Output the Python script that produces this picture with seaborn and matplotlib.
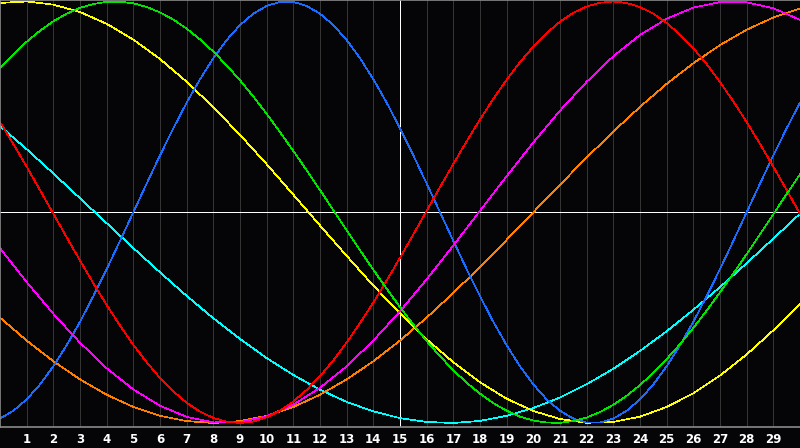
import numpy as np
import pandas as pd
import matplotlib
matplotlib.use("Agg")
import matplotlib.pyplot as plt
import seaborn as sns

# day positions: whole days for the slow cycles, half days for the fast ones
days = list(range(31))
half_days = [d / 2 for d in range(61)]

# values (half-day readings for the fast cycles)
red = [0.428, 0.324, 0.216, 0.105, -0.007, -0.119, -0.229, -0.337, -0.440, -0.538,
       -0.629, -0.712, -0.786, -0.850, -0.904, -0.946, -0.976, -0.994, -1.000, -0.993,
       -0.973, -0.942, -0.898, -0.843, -0.778, -0.703, -0.618, -0.526, -0.428, -0.324,
       -0.216, -0.105, 0.007, 0.119, 0.229, 0.337, 0.440, 0.538, 0.629, 0.712,
       0.786, 0.850, 0.904, 0.946, 0.976, 0.994, 1.000, 0.993, 0.973, 0.942,
       0.898, 0.843, 0.778, 0.703, 0.618, 0.526, 0.428, 0.324, 0.216, 0.105, -0.007]
green = [0.683, 0.749, 0.809, 0.861, 0.906, 0.942, 0.970, 0.988, 0.998, 0.999,
         0.991, 0.974, 0.948, 0.914, 0.871, 0.820, 0.762, 0.697, 0.626, 0.549,
         0.467, 0.380, 0.291, 0.199, 0.105, 0.010, -0.086, -0.180, -0.273, -0.363,
         -0.450, -0.533, -0.611, -0.683, -0.750, -0.809, -0.861, -0.906, -0.942, -0.970,
         -0.988, -0.998, -0.999, -0.991, -0.974, -0.948, -0.914, -0.871, -0.820, -0.762,
         -0.697, -0.626, -0.549, -0.467, -0.380, -0.291, -0.199, -0.105, -0.009, 0.086, 0.180]
blue = [-0.979, -0.942, -0.888, -0.817, -0.731, -0.631, -0.520, -0.398, -0.270, -0.136,
        0.000, 0.136, 0.270, 0.398, 0.520, 0.631, 0.731, 0.817, 0.888, 0.942,
        0.979, 0.998, 0.998, 0.979, 0.942, 0.888, 0.817, 0.731, 0.631, 0.520,
        0.398, 0.270, 0.136, 0.000, -0.136, -0.270, -0.398, -0.520, -0.631, -0.731,
        -0.817, -0.888, -0.942, -0.979, -0.998, -0.998, -0.979, -0.942, -0.888, -0.817,
        -0.731, -0.631, -0.520, -0.398, -0.270, -0.136, 0.000, 0.136, 0.270, 0.398, 0.520]
yellow = [0.993, 1.000, 0.985, 0.950, 0.894, 0.819, 0.727, 0.619, 0.498, 0.367,
          0.228, 0.083, -0.063, -0.207, -0.348, -0.480, -0.603, -0.712, -0.807, -0.885,
          -0.943, -0.981, -0.999, -0.995, -0.970, -0.924, -0.859, -0.775, -0.675, -0.560, -0.434]
cyan = [0.409, 0.299, 0.184, 0.066, -0.052, -0.170, -0.285, -0.397, -0.503, -0.601,
        -0.692, -0.772, -0.842, -0.900, -0.945, -0.977, -0.995, -1.000, -0.990, -0.966,
        -0.929, -0.879, -0.816, -0.743, -0.658, -0.565, -0.463, -0.355, -0.242, -0.125, -0.007]
magenta = [-0.171, -0.331, -0.482, -0.619, -0.740, -0.841, -0.918, -0.971, -0.997, -0.996,
           -0.968, -0.913, -0.833, -0.731, -0.609, -0.470, -0.318, -0.158, 0.007, 0.171,
           0.331, 0.482, 0.619, 0.740, 0.841, 0.918, 0.971, 0.997, 0.996, 0.968, 0.913]
orange = [-0.500, -0.609, -0.707, -0.793, -0.866, -0.924, -0.966, -0.991, -1.000, -0.991,
          -0.966, -0.924, -0.866, -0.793, -0.707, -0.609, -0.500, -0.383, -0.259, -0.131,
          0.000, 0.131, 0.259, 0.383, 0.500, 0.609, 0.707, 0.793, 0.866, 0.924, 0.966]

tick_days = list(range(1, 30))
tick_labels = [str(d) for d in tick_days]

series = [("cyan", days, cyan), ("orange", days, orange), ("yellow", days, yellow),
          ("blue", half_days, blue), ("magenta", days, magenta),
          ("red", half_days, red), ("green", half_days, green)]
palette = {"red": "#ff0000", "green": "#00e600", "blue": "#1a6cff", "yellow": "#ffff00",
           "cyan": "#00ffff", "magenta": "#ff00ff", "orange": "#ff8000"}

df = pd.concat([pd.DataFrame({"day": x, "value": v, "cycle": k}) for k, x, v in series])

fig = plt.figure(figsize=(8, 4.48), dpi=100, facecolor="#050508")
ax = fig.add_axes([0, 1 - 427 / 448, 1, 427 / 448])
ax.set_facecolor("#050508")

# day grid
for d in tick_days:
    ax.axvline(d, color="#343434", lw=0.72, zorder=0, antialiased=False)
ax.axvline(15, color="white", lw=0.72, zorder=1, antialiased=False)
ax.axhline(0, color="white", lw=0.72, zorder=1, antialiased=False)

sns.lineplot(data=df, x="day", y="value", hue="cycle", palette=palette, ax=ax,
             lw=0.5, legend=False, sort=False, estimator=None, zorder=2,
             antialiased=False)

ax.set_xlim(0, 30)
ax.set_ylim(-1.019, 1.007)
ax.set_xticks(tick_days)
ax.set_xticklabels(tick_labels, color="white", fontweight="bold", fontsize=8.5)
ax.tick_params(axis="x", length=0, pad=4)
ax.set_yticks([])
ax.set_xlabel("")
ax.set_ylabel("")
for name, sp in ax.spines.items():
    sp.set_color("#8a8a8a")
    sp.set_linewidth(1.2)
ax.spines["right"].set_visible(False)

fig.savefig("out.png", dpi=100, facecolor=fig.get_facecolor())
